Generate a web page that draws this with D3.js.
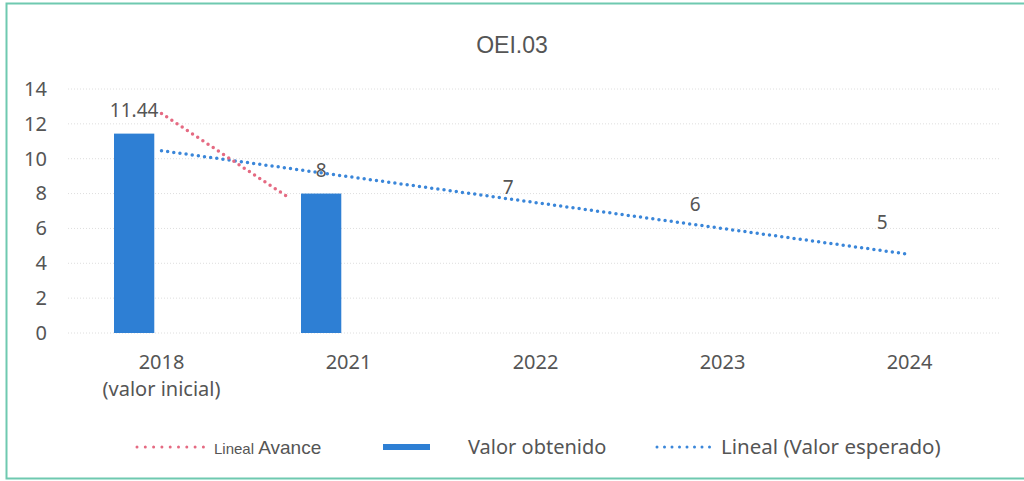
<!DOCTYPE html>
<html>
<head>
<meta charset="utf-8">
<script src="https://cdn.jsdelivr.net/npm/d3@7"></script>
<style>
  body { margin: 0; background: #fff; }
  text { font-family: "Noto Sans", sans-serif; fill: #555; }
</style>
</head>
<body>
<div id="chart"></div>
<script>
const categories = ["2018", "2021", "2022", "2023", "2024"]
const subLabels = ["(valor inicial)", "", "", "", ""]
const valorObtenido = [11.44, 8, null, null, null]
const valorEsperado = [null, 8, 7, 6, 5]
const yTicks = [0, 2, 4, 6, 8, 10, 12, 14]
// trend endpoints: [category index, value]
const trendAvance = [[0, 12.6], [0.69, 7.7]]
const trendEsperado = [[0, 10.46], [4, 4.51]]

const W = 1024, H = 481
const PLOT = {LEFT: 68, RIGHT: 1003, TOP: 89, BOTTOM: 333}

const svg = d3.select("#chart").append("svg")
  .attr("width", W)
  .attr("height", H)

// frame
svg.append("path")
  .attr("d", `M1030,3.5 H6.5 V478.5 H1030`)
  .attr("fill", "none")
  .attr("stroke", "#6fc9b0")
  .attr("stroke-width", 2)

// title
svg.append("text")
  .attr("x", 512)
  .attr("y", 53)
  .attr("font-size", "23px")
  .attr("text-anchor", "middle")
  .style("font-family", "Liberation Sans, Arial, sans-serif")
  .text("OEI.03")

const x = d3.scaleBand()
  .domain(categories)
  .range([PLOT.LEFT, PLOT.RIGHT])

const xSub = d3.scaleBand()
  .domain(["obtenido", "esperado"])
  .range([46, 140])
  .paddingInner(0.25)

const xi = d3.scaleLinear()
  .domain([0, categories.length - 1])
  .range([x(categories[0]) + x.bandwidth() / 2, x(categories[categories.length - 1]) + x.bandwidth() / 2])

const y = d3.scaleLinear()
  .domain([0, 14])
  .range([PLOT.BOTTOM, PLOT.TOP])

// gridlines
svg.append("g")
  .selectAll("line")
  .data(yTicks)
  .enter().append("line")
    .attr("x1", PLOT.LEFT)
    .attr("x2", PLOT.RIGHT - 3)
    .attr("y1", d => y(d))
    .attr("y2", d => y(d))
    .attr("stroke", "#dedede")
    .attr("stroke-width", 1)
    .attr("stroke-dasharray", "1 2")

// y axis labels
const yAxis = svg.append("g")
  .attr("transform", `translate(${PLOT.LEFT - 21}, 0)`)
  .call(d3.axisLeft(y).tickValues(yTicks).tickSize(0).tickPadding(0))
yAxis.select(".domain").remove()
yAxis.selectAll("text")
  .attr("font-size", "20px")
  .attr("fill", "#555")
  .style("font-family", "Noto Sans, sans-serif")

// x axis labels
const xAxis = svg.append("g")
  .attr("transform", `translate(0, ${PLOT.BOTTOM + 22})`)
  .call(d3.axisBottom(x).tickSize(0).tickPadding(0))
xAxis.select(".domain").remove()
xAxis.selectAll("text")
  .attr("font-size", "20px")
  .attr("fill", "#555")
  .style("font-family", "Noto Sans, sans-serif")
xAxis.selectAll(".tick").append("text")
  .attr("y", 27)
  .attr("dy", "0.71em")
  .attr("font-size", "20px")
  .attr("fill", "#555")
  .attr("text-anchor", "middle")
  .style("font-family", "Noto Sans, sans-serif")
  .text((d, i) => subLabels[i])

// bars
const barData = categories.map((c, i) => ({c: c, v: valorObtenido[i]})).filter(d => d.v != null)
svg.append("g")
  .selectAll("rect")
  .data(barData)
  .enter().append("rect")
    .attr("x", d => x(d.c) + xSub("obtenido"))
    .attr("width", xSub.bandwidth())
    .attr("y", d => y(d.v))
    .attr("height", d => y(0) - y(d.v))
    .attr("fill", "#2e7fd4")

// trend lines
const line = d3.line().x(d => xi(d[0])).y(d => y(d[1]))
svg.append("path")
  .datum(trendEsperado)
  .attr("d", line)
  .attr("fill", "none")
  .attr("stroke", "#3a86d9")
  .attr("stroke-width", 3.5)
  .attr("stroke-linecap", "round")
  .attr("stroke-dasharray", "0 6.2")
svg.append("path")
  .datum(trendAvance)
  .attr("d", line)
  .attr("fill", "none")
  .attr("stroke", "#e56a82")
  .attr("stroke-width", 3.5)
  .attr("stroke-linecap", "round")
  .attr("stroke-dasharray", "0 6.2")

// data labels
const labelData = categories.map((c, i) => ({c: c, v: valorObtenido[i] != null ? valorObtenido[i] : valorEsperado[i]}))
svg.append("g")
  .selectAll("text")
  .data(labelData)
  .enter().append("text")
    .attr("x", d => x(d.c) + xSub("obtenido") + xSub.bandwidth() / 2)
    .attr("y", d => y(d.v) - 17)
    .attr("font-size", "19px")
    .attr("text-anchor", "middle")
    .text(d => d.v)

// legend
const legend = svg.append("g").attr("transform", "translate(0, 447)")
legend.append("line")
  .attr("x1", 137).attr("x2", 204)
  .attr("stroke", "#e56a82")
  .attr("stroke-width", 3)
  .attr("stroke-linecap", "round")
  .attr("stroke-dasharray", "0 8.3")
legend.append("text")
  .attr("x", 214).attr("y", 7)
  .attr("font-size", "15px")
  .style("font-family", "Liberation Sans, Arial, sans-serif")
  .text("Lineal ")
  .append("tspan")
    .attr("font-size", "19px")
    .text("Avance")
legend.append("rect")
  .attr("x", 383).attr("y", -3)
  .attr("width", 47).attr("height", 6)
  .attr("fill", "#2e7fd4")
legend.append("text")
  .attr("x", 468).attr("y", 7)
  .attr("font-size", "20px")
  .text("Valor obtenido")
legend.append("line")
  .attr("x1", 657).attr("x2", 717)
  .attr("stroke", "#3a86d9")
  .attr("stroke-width", 3)
  .attr("stroke-linecap", "round")
  .attr("stroke-dasharray", "0 7.5")
legend.append("text")
  .attr("x", 721).attr("y", 7)
  .attr("font-size", "20.5px")
  .text("Lineal (Valor esperado)")
</script>
</body>
</html>
